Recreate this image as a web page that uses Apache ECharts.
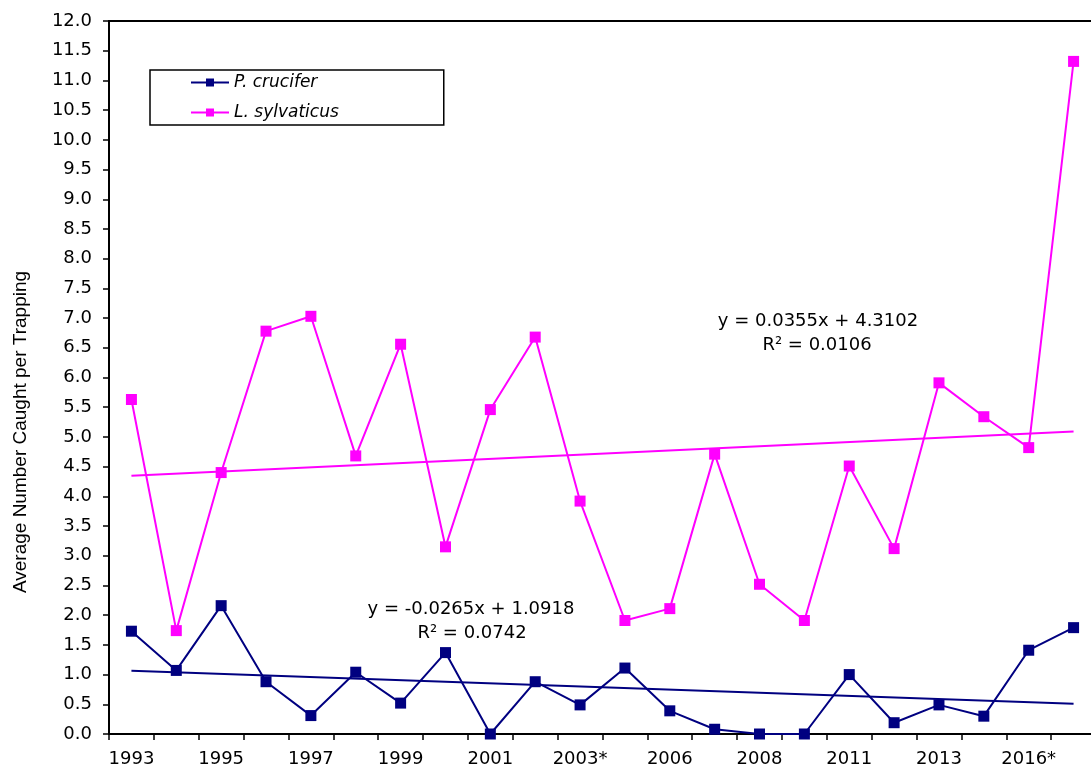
<!DOCTYPE html>
<html>
<head>
<meta charset="utf-8">
<script src="https://cdn.jsdelivr.net/npm/echarts@6/dist/echarts.min.js"></script>
<style>
html,body{margin:0;padding:0;background:#fff;}
#chart{width:1091px;height:769px;}
</style>
</head>
<body>
<div id="chart"></div>
<script>
var categories = ['1993','1994','1995','1996','1997','1998','1999','2000','2001','2002','2003*','2005','2006','2007','2008','2010','2011','2012','2013','2015','2016*','2017'];
var crucifer = [1.73,1.07,2.16,0.88,0.31,1.04,0.52,1.37,0.00,0.88,0.49,1.11,0.39,0.08,0.00,0.00,1.00,0.19,0.49,0.30,1.41,1.79];
var sylvaticus = [5.63,1.74,4.40,6.78,7.03,4.68,6.56,3.15,5.46,6.68,3.92,1.91,2.11,4.71,2.52,1.91,4.51,3.12,5.91,5.34,4.82,11.32];
var cruciferTrend = [[0,1.065],[21,0.509]];
var sylvaticusTrend = [[0,4.346],[21,5.091]];
var cruciferEq = ['y = -0.0265x + 1.0918','R² = 0.0742'];
var sylvaticusEq = ['y = 0.0355x + 4.3102','R² = 0.0106'];
var yTitle = 'Average Number Caught per Trapping';

var navy = '#000080', pink = '#FF00FF';
var tickFont = 'DejaVu Sans';

var chart = echarts.init(document.getElementById('chart'));
chart.setOption({
  animation: false,
  backgroundColor: '#fff',
  grid: {left: 109, top: 21, width: 987, height: 713, show: true, borderColor: '#000', borderWidth: 2,
         backgroundColor: 'transparent', outerBoundsMode: 'none', containLabel: false},
  legend: {
    orient: 'vertical', left: 150, top: 70,
    padding: [4, 105, 4, 40], itemGap: 13, itemWidth: 38, itemHeight: 10,
    backgroundColor: '#fff', borderColor: '#000', borderWidth: 1.5, borderRadius: 0,
    textStyle: {fontFamily: tickFont, fontSize: 17, fontStyle: 'italic', color: '#000', lineHeight: 16},
    data: ['P. crucifer', 'L. sylvaticus']
  },
  xAxis: {
    type: 'category', data: categories, boundaryGap: true,
    axisLine: {lineStyle: {color: '#000', width: 2}},
    axisTick: {show: true, interval: 0, length: 6, lineStyle: {color: '#000', width: 1.5}},
    axisLabel: {interval: 1, margin: 16, color: '#000', fontFamily: tickFont, fontSize: 18},
    splitLine: {show: false}
  },
  yAxis: {
    type: 'value', min: 0, max: 12, interval: 0.5,
    axisLine: {show: true, lineStyle: {color: '#000', width: 2}},
    axisTick: {show: true, length: 6, lineStyle: {color: '#000', width: 1.5}},
    axisLabel: {margin: 17, color: '#000', fontFamily: tickFont, fontSize: 18, formatter: function (v) { return v.toFixed(1); }},
    splitLine: {show: false}
  },
  graphic: [
    {type: 'text', x: 21, y: 432, rotation: Math.PI / 2,
     style: {text: yTitle, fontFamily: 'Liberation Sans', fontSize: 19, fill: '#000', align: 'center', verticalAlign: 'middle'}},
    {type: 'text', x: 471, y: 609, style: {text: cruciferEq[0], fontFamily: tickFont, fontSize: 18, fill: '#000', align: 'center', verticalAlign: 'middle'}},
    {type: 'text', x: 472, y: 633, style: {text: cruciferEq[1], fontFamily: tickFont, fontSize: 18, fill: '#000', align: 'center', verticalAlign: 'middle'}},
    {type: 'text', x: 818, y: 321, style: {text: sylvaticusEq[0], fontFamily: tickFont, fontSize: 18, fill: '#000', align: 'center', verticalAlign: 'middle'}},
    {type: 'text', x: 817, y: 345, style: {text: sylvaticusEq[1], fontFamily: tickFont, fontSize: 18, fill: '#000', align: 'center', verticalAlign: 'middle'}}
  ],
  series: [
    {name: 'P. crucifer', type: 'line', data: crucifer, symbol: 'rect', symbolSize: 11,
     lineStyle: {color: navy, width: 2}, itemStyle: {color: navy}, z: 4},
    {name: 'L. sylvaticus', type: 'line', data: sylvaticus, symbol: 'rect', symbolSize: 11,
     lineStyle: {color: pink, width: 2}, itemStyle: {color: pink}, z: 3},
    {name: 'crucifer trend', type: 'line', data: cruciferTrend, symbol: 'none',
     lineStyle: {color: navy, width: 2}, z: 2},
    {name: 'sylvaticus trend', type: 'line', data: sylvaticusTrend, symbol: 'none',
     lineStyle: {color: pink, width: 2}, z: 2}
  ]
});
</script>
</body>
</html>
